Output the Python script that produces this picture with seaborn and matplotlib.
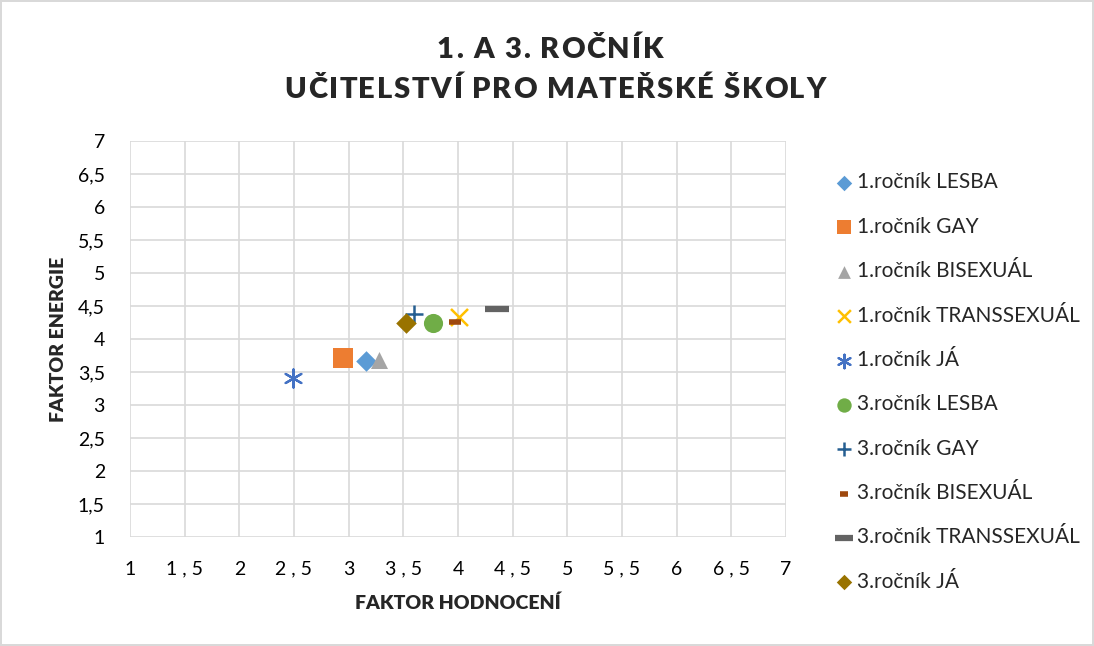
import numpy as np
import pandas as pd
import matplotlib
matplotlib.use("Agg")
import matplotlib.pyplot as plt
import seaborn as sns

# series
labels = ["1.ročník LESBA", "1.ročník GAY", "1.ročník BISEXUÁL", "1.ročník TRANSSEXUÁL",
          "1.ročník JÁ", "3.ročník LESBA", "3.ročník GAY", "3.ročník BISEXUÁL",
          "3.ročník TRANSSEXUÁL", "3.ročník JÁ"]
hodnoceni = [3.16, 2.95, 3.28, 4.01, 2.49, 3.77, 3.60, 3.97, 4.36, 3.52]
energie = [3.67, 3.71, 3.68, 4.33, 3.41, 4.24, 4.38, 4.26, 4.45, 4.24]

title_lines = ["1. A 3. ROČNÍK", "UČITELSTVÍ PRO MATEŘSKÉ ŠKOLY"]

tick_vals = np.arange(1, 7.01, 0.5)
x_tick_labels = ["1", "1 , 5", "2", "2 , 5", "3", "3 , 5", "4", "4 , 5", "5", "5 , 5", "6", "6 , 5", "7"]
y_tick_labels = ["1", "1,5", "2", "2,5", "3", "3,5", "4", "4,5", "5", "5,5", "6", "6,5", "7"]

colors = ["#5B9BD5", "#ED7D31", "#A5A5A5", "#FFC000", "#4472C4",
          "#70AD47", "#255E91", "#9E480E", "#636363", "#997300"]
markers = ["D", "s", "^", "x", (6, 2, 0), "o", "+", "_", "_", "D"]
sizes = [110, 190, 150, 150, 170, 190, 170, 70, 300, 110]
widths = [0, 0, 0, 1.8, 1.6, 0, 1.8, 4, 4.5, 0]

df = pd.DataFrame({"serie": labels, "x": hodnoceni, "y": energie})

sns.set_theme(style="white")
plt.rcParams["font.family"] = ["Lato", "DejaVu Sans"]

fig = plt.figure(figsize=(10.94, 6.46), dpi=100)
fig.patch.set_edgecolor("#D9D9D9")
fig.patch.set_linewidth(1.5)
ax = fig.add_axes([0.1188, 0.1687, 0.5997, 0.613])

for i, row in df.iterrows():
    sns.scatterplot(data=df.iloc[[i]], x="x", y="y", ax=ax, color=colors[i],
                    marker=markers[i], s=sizes[i], linewidth=widths[i],
                    edgecolor=colors[i] if widths[i] == 0 else None,
                    label=row["serie"], zorder=3)

ax.set_xlim(1, 7)
ax.set_ylim(1, 7)
ax.set_xticks(tick_vals)
ax.set_xticklabels(x_tick_labels)
ax.set_yticks(tick_vals)
ax.set_yticklabels(y_tick_labels)
ax.grid(True, color="#D9D9D9", linewidth=1.2)
for sp in ax.spines.values():
    sp.set_visible(False)
ax.tick_params(axis="x", length=0, pad=17, labelsize=14, labelcolor="#000000")
ax.tick_params(axis="y", length=0, pad=18, labelsize=14, labelcolor="#000000")

ax.set_xlabel("FAKTOR HODNOCENÍ", fontsize=14, fontweight="heavy", labelpad=12)
ax.set_ylabel("FAKTOR ENERGIE", fontsize=14, fontweight="heavy", labelpad=8)

leg = ax.legend(loc="upper left", bbox_to_anchor=(0.744, 0.762), bbox_transform=fig.transFigure,
                frameon=False, fontsize=15, labelspacing=1.17, handletextpad=0.05,
                handlelength=1.1, markerscale=0.75)


# title with letter spacing, like the Excel chart title
def tracked_line(text, cx, cy, target_w, **kw):
    renderer = fig.canvas.get_renderer()
    ws = []
    for ch in text:
        probe = fig.text(0, 0, "I" + ch + "I", **kw)
        w3 = probe.get_window_extent(renderer).width
        probe.remove()
        probe = fig.text(0, 0, "II", **kw)
        w2 = probe.get_window_extent(renderer).width
        probe.remove()
        ws.append(w3 - w2)
    track = (target_w - sum(ws)) / (len(text) - 1)
    x = cx - target_w / 2
    for ch, w in zip(text, ws):
        fig.text(x / fig.bbox.width, cy, ch, ha="left", va="center", **kw)
        x += w + track


title_kw = dict(fontsize=21, fontweight="heavy", color="#262626")
tracked_line(title_lines[0], 550, 1 - 50 / 646, 226, **title_kw)
tracked_line(title_lines[1], 555, 1 - 90 / 646, 541, **title_kw)

fig.savefig("out.png", dpi=100)
